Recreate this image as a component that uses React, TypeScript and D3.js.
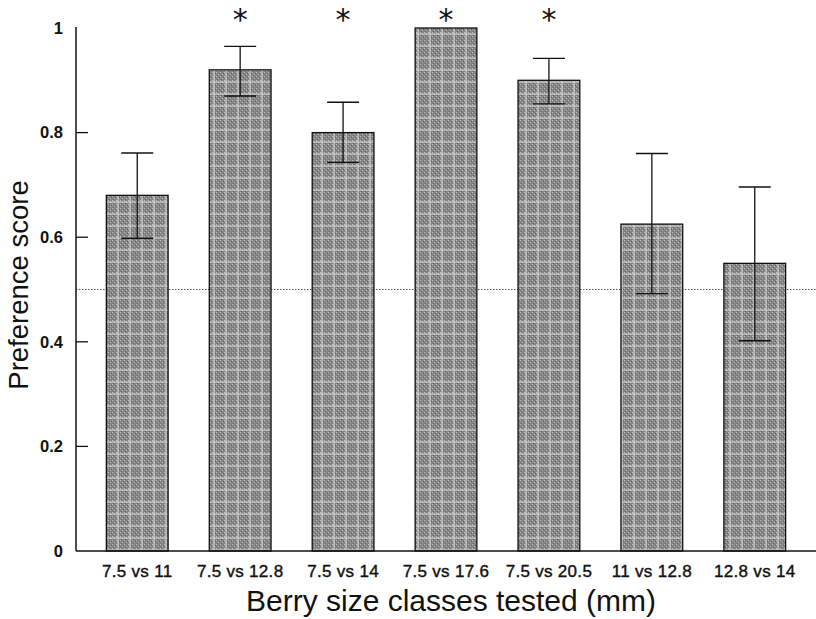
import { useEffect, useRef } from 'react';
import * as d3 from 'd3';

// ---- data ----
const categories = ['7.5 vs 11', '7.5 vs 12.8', '7.5 vs 14', '7.5 vs 17.6', '7.5 vs 20.5', '11 vs 12.8', '12.8 vs 14'];
const scores = [0.68, 0.92, 0.80, 1.0, 0.90, 0.625, 0.55];
const errUpper = [0.761, 0.965, 0.858, null, 0.942, 0.76, 0.696];
const errLower = [0.598, 0.87, 0.743, null, 0.855, 0.492, 0.402];
const significant = [false, true, true, true, true, false, false];
const yTicks = [0, 0.2, 0.4, 0.6, 0.8, 1];

const W = 816;
const H = 619;

const App = () => {
    const svgRef = useRef<SVGSVGElement | null>(null);

    useEffect(() => {
        const svg = d3.select(svgRef.current);
        svg.selectAll('*').remove();

        const left = 76;
        const right = 816;
        const top = 28;
        const bottom = 551;

        const x = d3.scaleBand<string>()
            .domain(categories)
            .range([left, right])
            .paddingInner(0.4)
            .paddingOuter(0.295);

        const y = d3.scaleLinear().domain([0, 1]).range([bottom, top]);

        /* texture for the bars: dithered grey with lighter cell walls */
        const defs = svg.append('defs');
        const size = 12;
        const pat = defs.append('pattern')
            .attr('id', 'tex')
            .attr('patternUnits', 'userSpaceOnUse')
            .attr('width', size)
            .attr('height', size);
        pat.append('rect').attr('width', size).attr('height', size).attr('fill', '#858585');
        for (let i = 0; i < size; i += 2) {
            for (let j = 0; j < size; j += 2) {
                if ((i + j) % 4 === 0) {
                    pat.append('rect').attr('x', i).attr('y', j).attr('width', 1).attr('height', 1).attr('fill', '#bdbdbd');
                } else {
                    pat.append('rect').attr('x', i + 1).attr('y', j + 1).attr('width', 1).attr('height', 1).attr('fill', '#666');
                }
            }
        }
        pat.append('rect').attr('x', 0).attr('y', 9).attr('width', size).attr('height', 2).attr('fill', '#d2d2d2').attr('opacity', 0.6);
        pat.append('rect').attr('x', 9).attr('y', 0).attr('width', 2).attr('height', size).attr('fill', '#d2d2d2').attr('opacity', 0.6);

        // dotted reference line at 0.5 (behind bars)
        svg.append('line')
            .attr('x1', left).attr('x2', right)
            .attr('y1', y(0.5)).attr('y2', y(0.5))
            .attr('stroke', '#555')
            .attr('stroke-width', 1)
            .attr('stroke-dasharray', '1.5,1.5');

        // bars
        svg.selectAll('.bar')
            .data(categories)
            .enter()
            .append('rect')
            .attr('x', d => x(d)!)
            .attr('y', (_, i) => y(scores[i]))
            .attr('width', x.bandwidth())
            .attr('height', (_, i) => y(0) - y(scores[i]))
            .attr('fill', 'url(#tex)')
            .attr('stroke', '#111')
            .attr('stroke-width', 1.3);

        // error bars
        const capHalf = 16;
        categories.forEach((c, i) => {
            if (errUpper[i] == null) return;
            const cx = x(c)! + x.bandwidth() / 2;
            const g = svg.append('g').attr('stroke', '#111').attr('stroke-width', 1.3);
            g.append('line').attr('x1', cx).attr('x2', cx).attr('y1', y(errUpper[i]!)).attr('y2', y(errLower[i]!));
            g.append('line').attr('x1', cx - capHalf).attr('x2', cx + capHalf).attr('y1', y(errUpper[i]!)).attr('y2', y(errUpper[i]!));
            g.append('line').attr('x1', cx - capHalf).attr('x2', cx + capHalf).attr('y1', y(errLower[i]!)).attr('y2', y(errLower[i]!));
        });

        // significance stars
        svg.selectAll('.star')
            .data(categories.filter((_, i) => significant[i]))
            .enter()
            .append('text')
            .attr('x', d => x(d)! + x.bandwidth() / 2)
            .attr('y', 30)
            .attr('text-anchor', 'middle')
            .style('font-family', '"DejaVu Sans", sans-serif')
            .style('font-size', '30px')
            .attr('fill', '#111')
            .text('*');

        // axes
        svg.append('line')
            .attr('x1', left).attr('x2', left)
            .attr('y1', top - 1).attr('y2', bottom)
            .attr('stroke', '#111').attr('stroke-width', 1.5);
        svg.append('line')
            .attr('x1', left).attr('x2', right)
            .attr('y1', bottom).attr('y2', bottom)
            .attr('stroke', '#111').attr('stroke-width', 1.5);

        // y ticks (inward) + labels
        svg.selectAll('.ytick')
            .data(yTicks.filter(t => t > 0 && t < 1))
            .enter()
            .append('line')
            .attr('x1', left).attr('x2', left + 12)
            .attr('y1', d => y(d)).attr('y2', d => y(d))
            .attr('stroke', '#111').attr('stroke-width', 1.3);

        svg.selectAll('.ylab')
            .data(yTicks)
            .enter()
            .append('text')
            .attr('x', 63)
            .attr('y', d => y(d))
            .attr('dy', '0.35em')
            .attr('text-anchor', 'end')
            .style('font-family', '"Liberation Sans", Arial, sans-serif')
            .style('font-size', '16.5px')
            .style('font-weight', 'bold')
            .attr('fill', '#111')
            .text(d => d3.format('~g')(d));

        // x labels
        svg.selectAll('.xlab')
            .data(categories)
            .enter()
            .append('text')
            .attr('x', d => x(d)! + x.bandwidth() / 2)
            .attr('y', 577)
            .attr('text-anchor', 'middle')
            .style('font-family', '"Liberation Sans", Arial, sans-serif')
            .style('font-size', '17px')
            .style('letter-spacing', '0.3px')
            .attr('fill', '#111')
            .attr('stroke', '#111')
            .attr('stroke-width', 0.4)
            .text(d => d);

        // axis titles
        svg.append('text')
            .attr('x', 451)
            .attr('y', 611)
            .attr('text-anchor', 'middle')
            .style('font-family', '"Liberation Sans", Arial, sans-serif')
            .style('font-size', '30px')
            .attr('fill', '#111')
            .text('Berry size classes tested (mm)');

        svg.append('text')
            .attr('transform', 'translate(28,285) rotate(-90)')
            .attr('text-anchor', 'middle')
            .style('font-family', '"Liberation Sans", Arial, sans-serif')
            .style('font-size', '27.5px')
            .attr('fill', '#111')
            .text('Preference score');
    }, []);

    return (
        <svg
            ref={svgRef}
            width={W}
            height={H}
            style={{ position: 'absolute', left: 0, top: 0, background: '#fff' }}
        />
    );
};

export default App;
